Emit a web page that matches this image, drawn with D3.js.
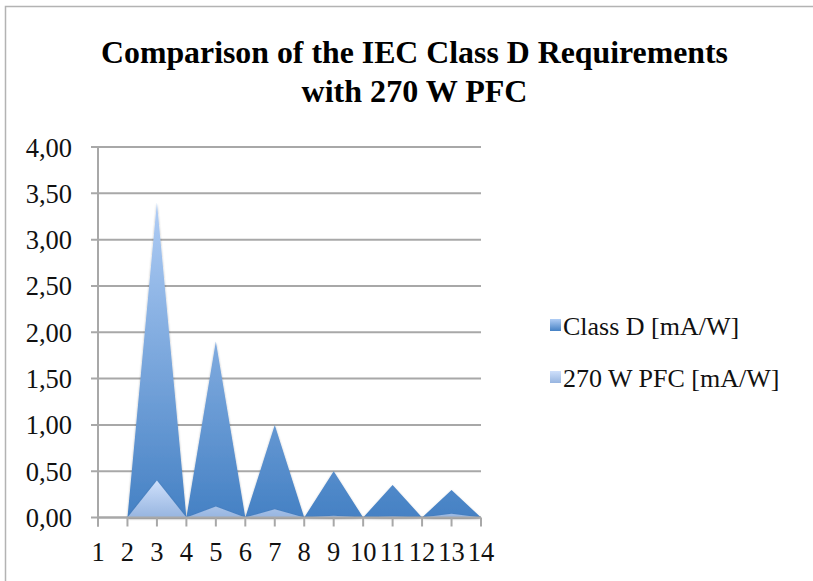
<!DOCTYPE html>
<html>
<head>
<meta charset="utf-8">
<script src="https://cdn.jsdelivr.net/npm/d3@7"></script>
<style>
  body { margin: 0; background: #fff; }
  svg { display: block; }
</style>
</head>
<body>
<div id="chart-area"></div>
<script>
// harmonic order on x, current per watt on y
var harmonics = [1, 2, 3, 4, 5, 6, 7, 8, 9, 10, 11, 12, 13, 14];
var classD = [null, 0, 3.40, 0, 1.90, 0, 1.00, 0, 0.50, 0, 0.35, 0, 0.296, 0];
var pfc270 = [null, 0, 0.40, 0, 0.12, 0, 0.09, 0, 0.02, 0, 0.01, 0, 0.04, 0];
var yTicks = [0, 0.5, 1, 1.5, 2, 2.5, 3, 3.5, 4];
var seriesNames = ["Class D [mA/W]", "270 W PFC [mA/W]"];
var titleLines = ["Comparison of the IEC Class D Requirements", "with 270 W PFC"];

var W = 813, H = 581;
var margin = { left: 98, right: 332, top: 147, bottom: 63.5 };
var w = W - margin.left - margin.right;
var h = H - margin.top - margin.bottom;

var serif = "Liberation Serif, Times New Roman, serif";

var svg = d3.select("#chart-area")
    .append("svg")
    .attr("width", W)
    .attr("height", H);

var defs = svg.append("defs");
function grad(id, top, bottom) {
    var g = defs.append("linearGradient")
        .attr("id", id)
        .attr("x1", 0).attr("y1", 0)
        .attr("x2", 0).attr("y2", 1);
    g.append("stop").attr("offset", "0%").attr("stop-color", top);
    g.append("stop").attr("offset", "100%").attr("stop-color", bottom);
}
grad("gClassD", "#b0cdf5", "#4581c4");
grad("gPfc", "#cfe0fb", "#97b5e0");

var shadow = defs.append("filter").attr("id", "shadow")
    .attr("x", "-10%").attr("y", "-10%").attr("width", "120%").attr("height", "120%");
shadow.append("feDropShadow")
    .attr("dx", 0).attr("dy", 1)
    .attr("stdDeviation", 1.2)
    .attr("flood-color", "#000")
    .attr("flood-opacity", 0.3);

// outer frame
svg.append("rect")
    .attr("x", 5.5).attr("y", 6.5)
    .attr("width", 830).attr("height", 620)
    .attr("fill", "none")
    .attr("stroke", "#b3b3b3")
    .attr("stroke-width", 1.5);

// title
svg.selectAll("text.title")
    .data(titleLines)
    .enter()
    .append("text")
    .attr("class", "title")
    .attr("x", 414.5)
    .attr("y", function (d, i) { return 63 + i * 39; })
    .attr("text-anchor", "middle")
    .attr("font-family", serif)
    .attr("font-weight", "bold")
    .attr("font-size", "31px")
    .attr("textLength", function (d, i) { return i == 0 ? 627 : 226; })
    .attr("lengthAdjust", "spacingAndGlyphs")
    .text(function (d) { return d; });

var g = svg.append("g")
    .attr("transform", "translate(" + margin.left + "," + margin.top + ")");

var xScale = d3.scalePoint()
    .domain(harmonics)
    .range([0, w]);

var yScale = d3.scaleLinear()
    .domain([0, 4])
    .range([h, 0]);

// gridlines
g.selectAll("line.grid")
    .data(yTicks)
    .enter()
    .append("line")
    .attr("class", "grid")
    .attr("x1", -7)
    .attr("x2", w)
    .attr("y1", function (d) { return yScale(d); })
    .attr("y2", function (d) { return yScale(d); })
    .attr("stroke", "#a8a8a8")
    .attr("stroke-width", 2);

// y tick labels
g.selectAll("text.ylab")
    .data(yTicks)
    .enter()
    .append("text")
    .attr("class", "ylab")
    .attr("x", -26)
    .attr("y", function (d) { return yScale(d) + 9.5; })
    .attr("text-anchor", "end")
    .attr("font-family", serif)
    .attr("font-size", "26.5px")
    .attr("fill", "#111")
    .text(function (d) { return d3.format(".2f")(d).replace(".", ","); });

// areas
function drawArea(values, fill) {
    var data = harmonics.map(function (k, i) { return { k: k, v: values[i] }; });
    var area = d3.area()
        .defined(function (d) { return d.v != null; })
        .x(function (d) { return xScale(d.k); })
        .y0(yScale(0))
        .y1(function (d) { return yScale(d.v); });
    g.append("path")
        .datum(data)
        .attr("d", area)
        .attr("fill", fill)
        .attr("filter", "url(#shadow)");
}
drawArea(classD, "url(#gClassD)");
drawArea(pfc270, "url(#gPfc)");

// axes
g.append("line")
    .attr("x1", 0).attr("x2", 0)
    .attr("y1", 0).attr("y2", h + 9)
    .attr("stroke", "#a8a8a8")
    .attr("stroke-width", 2);

g.append("line")
    .attr("x1", 0).attr("x2", w)
    .attr("y1", h).attr("y2", h)
    .attr("stroke", "#a8a8a8")
    .attr("stroke-width", 2);

g.selectAll("line.xtick")
    .data(harmonics)
    .enter()
    .append("line")
    .attr("class", "xtick")
    .attr("x1", function (d) { return xScale(d); })
    .attr("x2", function (d) { return xScale(d); })
    .attr("y1", h)
    .attr("y2", h + 9)
    .attr("stroke", "#a8a8a8")
    .attr("stroke-width", 2);

// x tick labels
g.selectAll("text.xlab")
    .data(harmonics)
    .enter()
    .append("text")
    .attr("class", "xlab")
    .attr("x", function (d) { return xScale(d); })
    .attr("y", h + 43)
    .attr("text-anchor", "middle")
    .attr("font-family", serif)
    .attr("font-size", "26.5px")
    .attr("fill", "#111")
    .text(function (d) { return d; });

// legend
var legend = svg.selectAll("g.legend")
    .data(seriesNames)
    .enter()
    .append("g")
    .attr("class", "legend")
    .attr("transform", function (d, i) { return "translate(550," + (319 + i * 52) + ")"; });

legend.append("rect")
    .attr("width", 11)
    .attr("height", 12)
    .attr("fill", function (d, i) { return i == 0 ? "url(#gClassD)" : "url(#gPfc)"; });

legend.append("text")
    .attr("x", 13)
    .attr("y", 16)
    .attr("font-family", serif)
    .attr("font-size", "26px")
    .attr("fill", "#111")
    .text(function (d) { return d; });
</script>
</body>
</html>
